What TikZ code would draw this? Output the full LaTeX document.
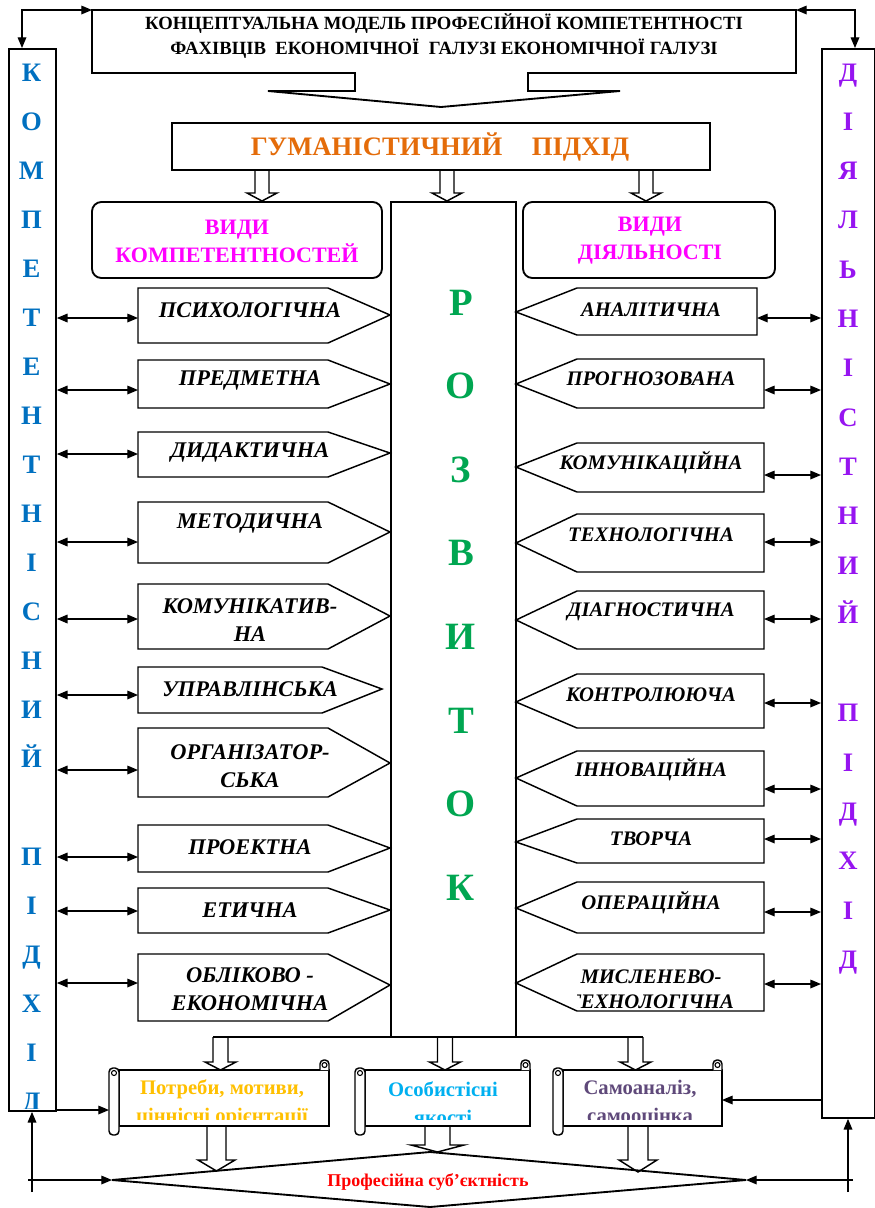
\documentclass[tikz,border=0pt]{standalone}
\usepackage{fontspec}
\setmainfont{Liberation Serif}
\usetikzlibrary{arrows.meta}
\definecolor{cblue}{RGB}{0,112,192}
\definecolor{cviol}{RGB}{150,20,240}
\definecolor{corange}{RGB}{228,108,10}
\definecolor{cmag}{RGB}{255,0,255}
\definecolor{cgreen}{RGB}{0,166,81}
\definecolor{cgold}{RGB}{255,192,0}
\definecolor{csky}{RGB}{0,176,240}
\definecolor{cplum}{RGB}{95,73,122}
\newcommand\hollowarrow[6]{% cx, top, base, tip, stemhalf, headhalf
  \filldraw[hol] ({#1-#5},#2) -- ({#1-#5},#3) -- ({#1-#6},#3) -- (#1,#4) -- ({#1+#6},#3) -- ({#1+#5},#3) -- ({#1+#5},#2);}
\newcommand\scrollshape[4]{% L R T B
  \filldraw[hol] ({#1+10},#3) rectangle (#2,#4);
  \filldraw[hol, rounded corners=3pt] ({#2-9},#3) -- ({#2-9},{#3-10}) -- (#2,{#3-10}) -- (#2,#3);
  \draw[line width=0.8pt] ({#2-4.5},{#3-5}) circle (2.5);
  \filldraw[hol, rounded corners=3pt] (#1,{#3-2}) rectangle ({#1+10},{#4+9});
  \draw[line width=0.8pt] ({#1+5},{#3+3}) circle (2.5);}
\newcommand\LRow[9]{% n, top, bottom, tipy, tipx, notchx, arrowy, labely, text
  \draw[pent] (138,#2) -- (#6,#2) -- (#5,#4) -- (#6,#3) -- (138,#3) -- cycle;
  \coordinate (L#1) at (138,#7);
  \node[llab] (Lt#1) at (250,#8) {#9};
  \draw[conn] (lbar.east |- L#1) -- (L#1);}
\newcommand\RRow[8]{% n, top, bottom, tipy, right, arrowy, labely, text
  \draw[pent] (#5,#2) -- (577,#2) -- (516,#4) -- (577,#3) -- (#5,#3) -- cycle;
  \coordinate (R#1) at (#5,#6);
  \node[rlab] (Rt#1) at (651,#7) {#8};
  \draw[conn] (R#1) -- (rbar.west |- R#1);}
\begin{document}
\begin{tikzpicture}[x=0.75pt,y=-0.75pt,
  box/.style={draw,line width=1.4pt},
  pent/.style={draw,line width=1.1pt,fill=white},
  hol/.style={draw,line width=1.1pt,fill=white},
  conn/.style={line width=0.9pt,{Triangle[length=8pt,width=6.5pt]}-{Triangle[length=8pt,width=6.5pt]}},
  oneway/.style={line width=0.9pt,-{Triangle[length=8pt,width=6.5pt]}},
  llab/.style={font=\fontsize{16.8}{21}\selectfont\bfseries\itshape,align=center,inner sep=0pt},
  rlab/.style={font=\fontsize{15.5}{19}\selectfont\bfseries\itshape,align=center,inner sep=0pt},
  barlet/.style={font=\fontsize{20}{20}\selectfont\bfseries,anchor=base,inner sep=0pt},
  cenlet/.style={font=\fontsize{29}{29}\selectfont\bfseries,anchor=base,inner sep=0pt,text=cgreen},
  head/.style={font=\fontsize{16.5}{21}\selectfont\bfseries,align=center,text=cmag,inner sep=0pt},
  scr/.style={font=\fontsize{15.5}{21}\selectfont\bfseries,align=center,inner sep=0pt}]
\useasboundingbox (0,0) rectangle (875,1208);

% side bars
\node[box,anchor=north west,minimum width=35.25pt,minimum height=796.5pt,inner sep=0pt] (lbar) at (8,48) {};
\node[box,anchor=north west,minimum width=39.5pt,minimum height=801.75pt,inner sep=0pt] (rbar) at (821,48) {};
\begin{scope}
  \clip (8,48) rectangle (55,1108);
  \foreach \c [count=\i from 0] in {К,О,М,П,Е,Т,Е,Н,Т,Н,І,С,Н,И,Й}
    \node[barlet,text=cblue] (ka\i) at (31.5,72+49*\i+9) {\c};
  \foreach \c [count=\i from 16] in {П,І,Д,Х,І,Д}
    \node[barlet,text=cblue] (kb\i) at (31.5,72+49*\i+9) {\c};
\end{scope}
\foreach \c [count=\i from 0] in {Д,І,Я,Л,Ь,Н,І,С,Т,Н,И,Й}
  \node[barlet,text=cviol] (da\i) at (848,72+49.3*\i+9) {\c};
\foreach \c [count=\i from 13] in {П,І,Д,Х,І,Д}
  \node[barlet,text=cviol] (db\i) at (848,72+49.3*\i+9) {\c};

% title
\draw[box,fill=white] (92,10) -- (796,10) -- (796,73) -- (528,73) -- (528,91) -- (620,91) -- (441,107) -- (268,91) -- (355,91) -- (355,73) -- (92,73) -- cycle;
\node[align=center,font=\fontsize{14}{19}\selectfont\bfseries,inner sep=0pt] (title) at (444,36)
  {КОНЦЕПТУАЛЬНА МОДЕЛЬ ПРОФЕСІЙНОЇ КОМПЕТЕНТНОСТІ\\ФАХІВЦІВ\ \ ЕКОНОМІЧНОЇ\ \ ГАЛУЗІ ЕКОНОМІЧНОЇ ГАЛУЗІ};
\coordinate (tl) at (92,10);
\coordinate (tr) at (796,10);
\coordinate (lbtop) at (22,48);
\coordinate (rbtop) at (855,48);
\draw[conn] (tl) -| (lbtop);
\draw[conn] (tr) -| (rbtop);

% humanistic approach
\hollowarrow{262}{170}{193}{201}{7}{15}
\hollowarrow{447}{170}{193}{201}{7}{15}
\hollowarrow{646}{170}{193}{201}{7}{15}
\draw[box,fill=white] (172,123) rectangle (710,170);
\node[font=\fontsize{20}{20}\selectfont\bfseries,text=corange,inner sep=0pt] (hum) at (440,147) {ГУМАНІСТИЧНИЙ\hspace{1.1em}ПІДХІД};

% kinds boxes
\draw[box,rounded corners=7pt] (92,202) rectangle (382,278);
\node[head] (vk) at (237,241) {ВИДИ\\КОМПЕТЕНТНОСТЕЙ};
\draw[box,rounded corners=7pt] (523,202) rectangle (775,278);
\node[head] (vd) at (650,241) {ВИДИ\\ДІЯЛЬНОСТІ};

% bottom stems from central column
\hollowarrow{220.5}{1037}{1062}{1070}{7.5}{15.5}
\hollowarrow{445}{1037}{1062}{1070}{7.5}{15.5}
\hollowarrow{635.5}{1037}{1062}{1070}{7.5}{15.5}
% central column
\draw[box] (391,202) rectangle (516,1037);
\draw[box] (213,1037) -- (643,1037);
\foreach \c [count=\i from 0] in {Р,О,З,В,И,Т,О,К}
  \node[cenlet] (rz\i) at (461,302+83.6*\i+13) {\c};

% left rows
\LRow{1}{288}{343}{315}{390}{328}{318}{310}{ПСИХОЛОГІЧНА}
\LRow{2}{360}{408}{384}{390}{328}{390}{380}{ПРЕДМЕТНА}
\LRow{3}{432}{477}{453}{390}{328}{454}{452}{ДИДАКТИЧНА}
\LRow{4}{502}{563}{532}{390}{328}{542}{523}{МЕТОДИЧНА}
\LRow{5}{584}{649}{616}{390}{328}{619}{620}{КОМУНІКАТИВ-\\НА}
\LRow{6}{667}{713}{689}{382}{322}{695}{689}{УПРАВЛІНСЬКА}
\LRow{7}{728}{797}{763}{390}{328}{770}{766}{ОРГАНІЗАТОР-\\СЬКА}
\LRow{8}{825}{872}{848}{390}{328}{857}{847}{ПРОЕКТНА}
\LRow{9}{888}{933}{910}{390}{328}{911}{910}{ЕТИЧНА}
\LRow{10}{954}{1021}{985}{390}{328}{983}{989}{ОБЛІКОВО -\\ЕКОНОМІЧНА}

% right rows
\RRow{1}{288}{335}{312}{757}{318}{310}{АНАЛІТИЧНА}
\RRow{2}{359}{408}{384}{764}{390}{379}{ПРОГНОЗОВАНА}
\RRow{3}{443}{492}{467}{764}{475}{463}{КОМУНІКАЦІЙНА}
\RRow{4}{514}{572}{543}{764}{542}{535}{ТЕХНОЛОГІЧНА}
\RRow{5}{591}{649}{620}{764}{619}{612}{ДІАГНОСТИЧНА}
\RRow{6}{674}{728}{702}{764}{703}{695}{КОНТРОЛЮЮЧА}
\RRow{7}{751}{806}{778}{764}{789}{770}{ІННОВАЦІЙНА}
\RRow{8}{819}{863}{842}{764}{839}{839}{ТВОРЧА}
\RRow{9}{882}{933}{908}{764}{912}{903}{ОПЕРАЦІЙНА}
\draw[pent] (764,954) -- (577,954) -- (516,983) -- (577,1011) -- (764,1011) -- cycle;
\coordinate (R10) at (764,984);
\begin{scope}
  \clip (577,955) rectangle (763,1008);
  \node[rlab] (Rt10) at (651,989) {МИСЛЕНЕВО-\\ТЕХНОЛОГІЧНА};
\end{scope}
\draw[conn] (R10) -- (rbar.west |- R10);

% lower hollow arrows to the diamond
\hollowarrow{216.5}{1126}{1160}{1171}{9.5}{18.5}
\hollowarrow{437.5}{1126}{1145}{1152}{12.5}{26.5}
\hollowarrow{638}{1126}{1160}{1172}{10}{19}

% scrolls
\scrollshape{109}{329}{1070}{1126}
\scrollshape{355}{530}{1070}{1126}
\scrollshape{553}{722}{1070}{1126}
\begin{scope}
  \clip (120,1071) rectangle (328,1119);
  \node[scr,text=cgold] (s1t) at (222,1103) {Потреби, мотиви,\\ціннісні орієнтації};
\end{scope}
\begin{scope}
  \clip (366,1071) rectangle (529,1119);
  \node[scr,text=csky] (s2t) at (443,1103) {Особистісні\\якості};
\end{scope}
\begin{scope}
  \clip (564,1071) rectangle (721,1119);
  \node[scr,text=cplum] (s3t) at (640,1103) {Самоаналіз,\\самооцінка};
\end{scope}
\coordinate (s1w) at (109,1110);
\coordinate (s3e) at (722,1100);
\coordinate (rbw) at (821,1100);
\draw[oneway] (lbar.east |- s1w) -- (s1w);
\draw[oneway] (rbw) -- (s3e);

% diamond
\draw[box] (112,1180) -- (430,1152) -- (746,1180) -- (430,1207) -- cycle;
\node[font=\fontsize{13.5}{13.5}\selectfont\bfseries,text=red,inner sep=0pt] (prof) at (428,1182) {Професійна суб’єктність};
\coordinate (dL) at (112,1180);
\coordinate (dR) at (746,1180);
\coordinate (fl0) at (32,1192);
\coordinate (fl1) at (28,1180);
\coordinate (fr0) at (848,1192);
\coordinate (fr1) at (853,1180);
\draw[oneway] (fl0) -- (lbar.south -| fl0);
\draw[oneway] (fl1) -- (dL);
\draw[oneway] (fr0) -- (rbar.south -| fr0);
\draw[oneway] (fr1) -- (dR);
\end{tikzpicture}
\end{document}
